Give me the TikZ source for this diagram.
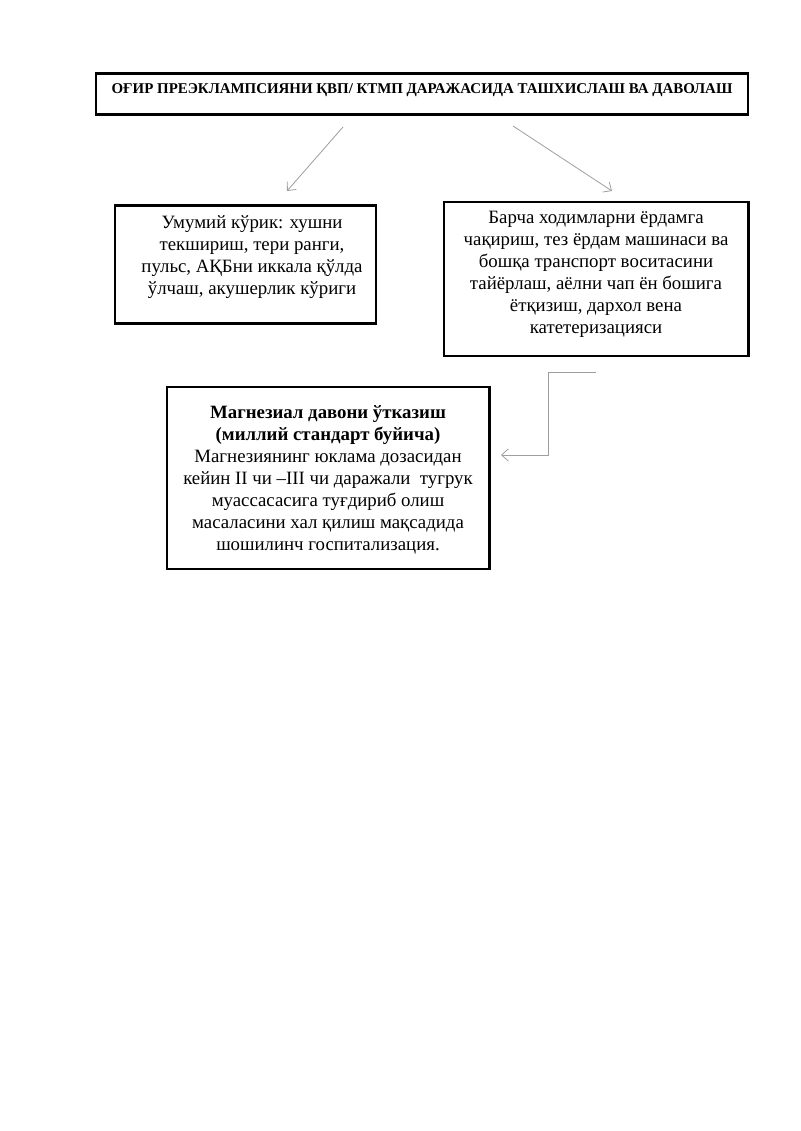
\documentclass[tikz,border=0pt]{standalone}
\usepackage{fontspec}
\setmainfont{Liberation Serif}
\usetikzlibrary{arrows.meta}
\begin{document}
\begin{tikzpicture}[x=0.744pt,y=-0.744pt,
  box/.style={draw=black,line width=2.2pt,inner sep=0pt,fill=none},
  txt/.style={align=center,font=\fontsize{14}{16.4}\selectfont,inner sep=0pt},
  conn/.style={draw=gray!75,line width=0.6pt,-{Straight Barb[length=5pt,width=9pt]}}]
\useasboundingbox[fill=white] (0,0) rectangle (800,1131);
% boxes
\node[box,minimum width=485.1pt,minimum height=29.8pt] (title) at (422,94) {};
\node[box,minimum width=194.2pt,minimum height=88.5pt] (exam) at (245.5,264.5) {};
\node[box,minimum width=226.2pt,minimum height=114.6pt] (staff) at (596,279) {};
\node[box,minimum width=239.6pt,minimum height=135.4pt] (magn) at (328,478) {};
% texts
\node[inner sep=0pt,font=\fontsize{11.1}{13}\selectfont\bfseries] (titletxt) at (422,90)
  {ОҒИР ПРЕЭКЛАМПСИЯНИ ҚВП/ КТМП ДАРАЖАСИДА ТАШХИСЛАШ ВА ДАВОЛАШ};
\node[txt] (examtxt) at (252,257) {Умумий кўрик: хушни\\текшириш, тери ранги,\\пульс, АҚБни иккала қўлда\\ўлчаш, акушерлик кўриги};
\node[txt] (stafftxt) at (596,274.5) {Барча ходимларни ёрдамга\\чақириш, тез ёрдам машинаси ва\\бошқа транспорт воситасини\\тайёрлаш, аёлни чап ён бошига\\ётқизиш, дархол вена\\катетеризацияси};
\node[txt] (magntxt) at (328,480) {\textbf{Магнезиал давони ўтказиш}\\\textbf{(миллий стандарт буйича)}\\Магнезиянинг юклама дозасидан\\кейин II чи –III чи даражали\ \ тугрук\\муассасасига туғдириб олиш\\масаласини хал қилиш мақсадида\\шошилинч госпитализация.};
% connectors
\coordinate (a1s) at (343,127);
\coordinate (a1e) at (287,191);
\coordinate (a2s) at (513,126);
\coordinate (a2e) at (612,191);
\coordinate (e1) at (596,372);
\coordinate (e2) at (548,372);
\coordinate (e3) at (548,455);
\coordinate (e4) at (501,455);
\draw[conn] (a1s) -- (a1e);
\draw[conn] (a2s) -- (a2e);
\draw[conn] (e1) -- (e2) -- (e3) -- (e4);
\end{tikzpicture}
\end{document}
